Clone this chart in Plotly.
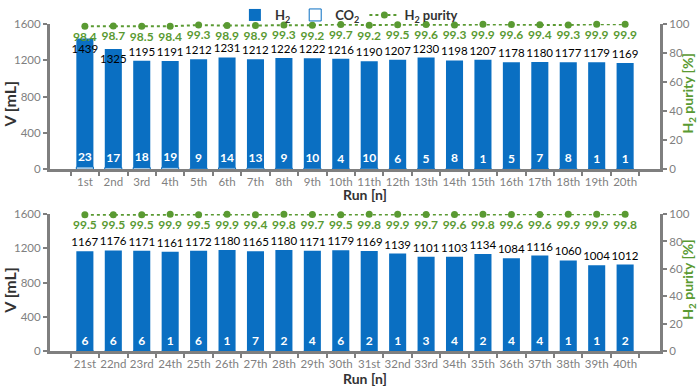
import plotly.graph_objects as go
from plotly.subplots import make_subplots

runs_top = ["1st","2nd","3rd","4th","5th","6th","7th","8th","9th","10th",
            "11th","12th","13th","14th","15th","16th","17th","18th","19th","20th"]
h2_top = [1439,1325,1195,1191,1212,1231,1212,1226,1222,1216,1190,1207,1230,1198,1207,1178,1180,1177,1179,1169]
co2_top = [23,17,18,19,9,14,13,9,10,4,10,6,5,8,1,5,7,8,1,1]
pur_top = [98.4,98.7,98.5,98.4,99.3,98.9,98.9,99.3,99.2,99.7,99.2,99.5,99.6,99.3,99.9,99.6,99.4,99.3,99.9,99.9]

runs_bot = ["21st","22nd","23rd","24th","25th","26th","27th","28th","29th","30th",
            "31st","32nd","33rd","34th","35th","36th","37th","38th","39th","40th"]
h2_bot = [1167,1176,1171,1161,1172,1180,1165,1180,1171,1179,1169,1139,1101,1103,1134,1084,1116,1060,1004,1012]
co2_bot = [6,6,6,1,6,1,7,2,4,6,2,1,3,4,2,4,4,1,1,2]
pur_bot = [99.5,99.5,99.5,99.9,99.5,99.9,99.4,99.8,99.7,99.5,99.8,99.9,99.7,99.6,99.8,99.6,99.6,99.9,99.9,99.8]

BLUE = "#0A6FC2"
GREEN = "#5A9A32"
GRAY = "#7F7F7F"
FONT = "Lato"

fig = make_subplots(rows=2, cols=1, specs=[[{"secondary_y": True}], [{"secondary_y": True}]],
                    vertical_spacing=0.1)

panels = [(runs_top, h2_top, co2_top, pur_top, 1), (runs_bot, h2_bot, co2_bot, pur_bot, 2)]
for runs, h2, co2, pur, row in panels:
    show = row == 1
    pos = ["inside" if v > 1300 else "outside" for v in h2]
    fig.add_trace(go.Bar(x=runs, y=h2, name="H<sub>2</sub>", marker=dict(color=BLUE, line=dict(width=0)),
                         text=[str(v) for v in h2], textposition=pos, insidetextanchor="end",
                         textfont=dict(color="black", size=11.5, family=FONT),
                         insidetextfont=dict(color="black", size=11.5, family=FONT),
                         outsidetextfont=dict(color="black", size=11.5, family=FONT),
                         constraintext="none", textangle=0,
                         cliponaxis=False, width=0.6, showlegend=show, legendgroup="h2"),
                  row=row, col=1, secondary_y=False)
    fig.add_trace(go.Bar(x=runs, y=co2, name="CO<sub>2</sub>",
                         marker=dict(color="white", line=dict(color=BLUE, width=1)),
                         text=[f"<b>{v}</b>" for v in co2], textposition="outside",
                         textfont=dict(color="white", size=12, family=FONT),
                         constraintext="none", textangle=0,
                         cliponaxis=False, width=0.6, showlegend=show, legendgroup="co2"),
                  row=row, col=1, secondary_y=False)
    fig.add_trace(go.Scatter(x=runs, y=pur, name="H<sub>2</sub> purity", mode="lines+markers+text",
                             line=dict(color=GREEN, width=2, dash="dot"),
                             marker=dict(color=GREEN, size=7),
                             text=[f"<b>{v:.1f}</b>" for v in pur], textposition="bottom center",
                             textfont=dict(color=GREEN, size=12, family=FONT),
                             cliponaxis=False, showlegend=show, legendgroup="pur"),
                  row=row, col=1, secondary_y=True)

axis_common = dict(showline=True, linecolor=GRAY, linewidth=3, ticks="outside", tickcolor=GRAY,
                   tickwidth=2, ticklen=4, showgrid=False, zeroline=False, automargin=False,
                   tickfont=dict(color="#808080", size=11.5, family=FONT))

for row, dom in [(1, [0.563, 0.938]), (2, [0.092, 0.447])]:
    fig.update_xaxes(**axis_common, tickson="boundaries", tickangle=0, domain=[0, 1], row=row, col=1)
    fig.update_yaxes(**axis_common, range=[0, 1600], tickvals=[0, 400, 800, 1200, 1600], domain=dom,
                     row=row, col=1, secondary_y=False)
    fig.update_yaxes(**axis_common, range=[0, 100], tickvals=[0, 20, 40, 60, 80, 100], domain=dom,
                     row=row, col=1, secondary_y=True)

for xref, yref, shift in [("x domain", "y domain", -25), ("x2 domain", "y3 domain", -27)]:
    fig.add_annotation(text="<b>Run [n]</b>", xref=xref, yref=yref, x=0.5, xshift=10, y=0, yshift=shift,
                       xanchor="center", yanchor="middle", showarrow=False,
                       font=dict(size=14, color="#333", family=FONT))
for yref in ["y domain", "y3 domain"]:
    fig.add_annotation(text="<b>V [mL]</b>", xref="paper", yref=yref, x=0, xshift=-40, y=0.5, yshift=-8,
                       xanchor="center", yanchor="middle", textangle=-90, showarrow=False,
                       font=dict(size=16, color="#333", family=FONT))
    fig.add_annotation(text="<b>H<sub>2</sub> purity [%]</b>", xref="paper", yref=yref, x=1, xshift=29, y=0.5, yshift=3,
                       xanchor="center", yanchor="middle", textangle=-90, showarrow=False,
                       font=dict(size=14, color=GREEN, family=FONT))

fig.update_layout(
    width=700, height=387, barmode="overlay", bargap=0.4,
    plot_bgcolor="white", paper_bgcolor="white",
    margin=dict(l=50, r=40, t=0, b=0),
    font=dict(family=FONT),
    legend=dict(orientation="h", x=0.49, xanchor="center", y=1.0, yanchor="top",
                font=dict(size=13, family=FONT, color="#333"), bgcolor="rgba(0,0,0,0)",
                itemwidth=30),
)
for tr in fig.data:
    if tr.showlegend:
        tr.name = "<b>" + tr.name + "</b>"

fig.write_html("out.html", config={"displayModeBar": False},
               post_script="document.body.style.margin='0';")
